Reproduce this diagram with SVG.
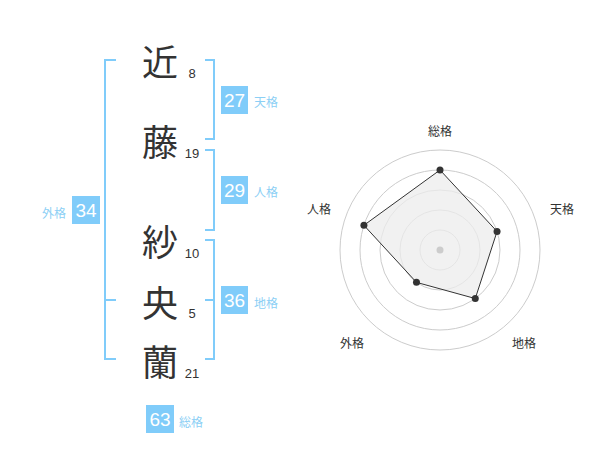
<svg xmlns="http://www.w3.org/2000/svg" width="600" height="470" viewBox="0 0 600 470">
<style>
.k{font-family:"Noto Sans CJK JP","Noto Sans CJK SC",sans-serif;font-size:36px;fill:#333;text-anchor:middle;dominant-baseline:central}
.n{font-family:"Liberation Sans",Arial,sans-serif;font-size:13px;fill:#333;text-anchor:middle}
.br{fill:none;stroke:#80ccfa;stroke-width:2}
.box{fill:#80ccfa}
.bt{font-family:"Liberation Sans",Arial,sans-serif;font-size:19px;fill:#fff;text-anchor:middle}
.lb{font-family:"Noto Sans CJK JP","Noto Sans CJK SC",sans-serif;font-size:12px;fill:#8ccff5}
.rl{font-family:"Noto Sans CJK JP","Noto Sans CJK SC",sans-serif;font-size:12px;fill:#333;text-anchor:middle;dominant-baseline:central}
.ring{fill:none;stroke:#ccc;stroke-width:1}
.pt{fill:#333}
</style>
<rect width="600" height="470" fill="#fff"/>
<g id="chars">
<text class="k" x="160" y="60">近</text>
<text class="k" x="160" y="140">藤</text>
<text class="k" x="160" y="240">紗</text>
<text class="k" x="160" y="301">央</text>
<text class="k" x="160" y="360">蘭</text>
<text class="n" x="192" y="78">8</text>
<text class="n" x="192" y="158">19</text>
<text class="n" x="192" y="258">10</text>
<text class="n" x="192" y="318">5</text>
<text class="n" x="192" y="378">21</text>
</g>
<g id="connectors">
<path class="br" d="M205,60 H214 V139 H205"/>
<path class="br" d="M205,150 H214 V230 H205"/>
<path class="br" d="M205,240 H214 V359 H205 M205,300 H214"/>
<path class="br" d="M116,60 H105 V359 H116 M105,300 H116"/>
</g>
<g id="tenkaku">
<rect class="box" x="221" y="86" width="27" height="28"/>
<text class="bt" x="234.5" y="107">27</text>
<text class="lb" x="254" y="107">天格</text>
</g>
<g id="jinkaku">
<rect class="box" x="221" y="176" width="27" height="28"/>
<text class="bt" x="234.5" y="197">29</text>
<text class="lb" x="254" y="197">人格</text>
</g>
<g id="chikaku">
<rect class="box" x="221" y="286" width="27" height="28"/>
<text class="bt" x="234.5" y="307">36</text>
<text class="lb" x="254" y="308">地格</text>
</g>
<g id="gaikaku">
<rect class="box" x="72" y="196" width="28" height="28"/>
<text class="bt" x="86" y="217">34</text>
<text class="lb" x="66" y="218" text-anchor="end">外格</text>
</g>
<g id="soukaku">
<rect class="box" x="146" y="405" width="28" height="28"/>
<text class="bt" x="160" y="426">63</text>
<text class="lb" x="179" y="427">総格</text>
</g>
<g id="radar">
<circle class="ring" cx="440" cy="250" r="100"/>
<circle class="ring" cx="440" cy="250" r="80"/>
<circle class="ring" cx="440" cy="250" r="60"/>
<circle class="ring" cx="440" cy="250" r="40"/>
<circle class="ring" cx="440" cy="250" r="20"/>
<polygon points="440,170 497.06,231.46 475.27,298.54 416.49,282.36 363.92,225.28" fill="#ececec" fill-opacity="0.75" stroke="#333" stroke-width="1"/>
<circle cx="440" cy="250" r="3.5" fill="#ccc"/>
<circle class="pt" cx="440" cy="170" r="3.5"/>
<circle class="pt" cx="497.06" cy="231.46" r="3.5"/>
<circle class="pt" cx="475.27" cy="298.54" r="3.5"/>
<circle class="pt" cx="416.49" cy="282.36" r="3.5"/>
<circle class="pt" cx="363.92" cy="225.28" r="3.5"/>
<text class="rl" x="440" y="130">総格</text>
<text class="rl" x="562" y="208">天格</text>
<text class="rl" x="524" y="342">地格</text>
<text class="rl" x="352" y="342">外格</text>
<text class="rl" x="319" y="208">人格</text>
</g>
</svg>
